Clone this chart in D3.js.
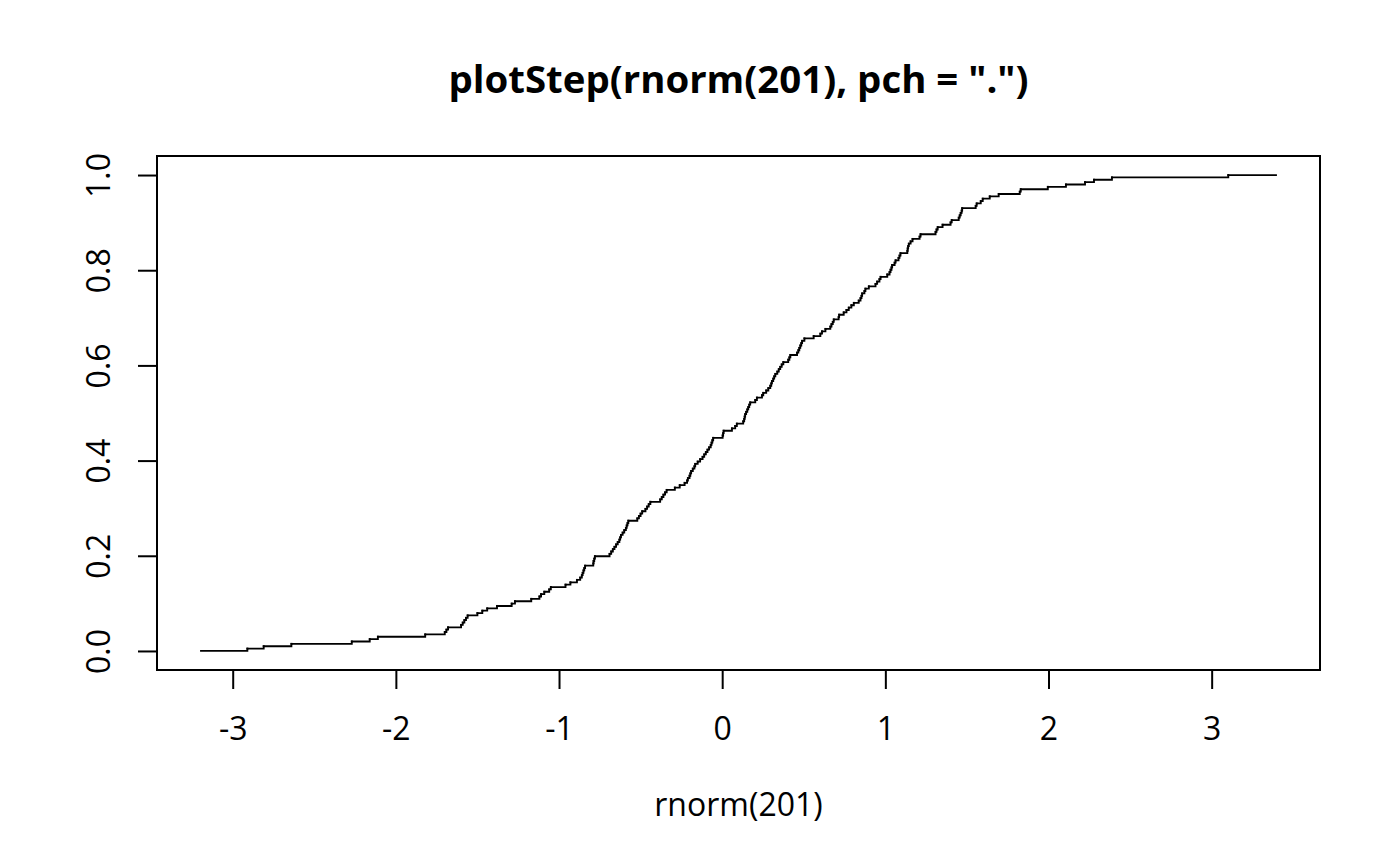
<!DOCTYPE html>
<html>
<head>
<meta charset="utf-8">
<script src="https://cdn.jsdelivr.net/npm/d3@7"></script>
<style>
    body { margin: 0; background: #fff; }
    svg text { font-family: "Open Sans", "Noto Sans", sans-serif; fill: #000; }
    .axis path { display: none; }
    .axis line { stroke: #000; stroke-width: 2px; }
</style>
</head>
<body>
<svg id="plot" width="1400" height="866"></svg>
<script>

var sampleValues = [
    -2.91, -2.81, -2.64, -2.27, -2.16, -2.11, -1.82, -1.70, -1.69, -1.68,
    -1.60, -1.59, -1.58, -1.57, -1.56, -1.50, -1.47, -1.44, -1.38, -1.29,
    -1.27, -1.17, -1.12, -1.11, -1.09, -1.06, -1.05, -0.96, -0.93, -0.89,
    -0.87, -0.86, -0.855, -0.85, -0.845, -0.84, -0.79, -0.788, -0.784, -0.78,
    -0.69, -0.68, -0.67, -0.66, -0.65, -0.64, -0.63, -0.625, -0.62, -0.61,
    -0.60, -0.59, -0.585, -0.58, -0.575, -0.52, -0.51, -0.50, -0.49, -0.47,
    -0.46, -0.45, -0.44, -0.38, -0.37, -0.36, -0.35, -0.34, -0.29, -0.26,
    -0.23, -0.215, -0.21, -0.20, -0.195, -0.19, -0.18, -0.17, -0.165, -0.15,
    -0.135, -0.12, -0.11, -0.10, -0.09, -0.08, -0.07, -0.065, -0.06, -0.055,
    0.003, 0.006, 0.009, 0.060, 0.080, 0.090, 0.129, 0.135, 0.138, 0.141,
    0.147, 0.154, 0.160, 0.166, 0.172, 0.203, 0.213, 0.244, 0.252, 0.270,
    0.283, 0.295, 0.301, 0.305, 0.313, 0.319, 0.326, 0.338, 0.347, 0.356,
    0.365, 0.375, 0.405, 0.412, 0.418, 0.459, 0.467, 0.473, 0.479, 0.485,
    0.490, 0.504, 0.561, 0.602, 0.612, 0.633, 0.663, 0.670, 0.678, 0.684,
    0.714, 0.717, 0.745, 0.762, 0.776, 0.792, 0.807, 0.837, 0.848, 0.854,
    0.858, 0.872, 0.878, 0.899, 0.940, 0.950, 0.964, 0.971, 1.012, 1.026,
    1.032, 1.038, 1.042, 1.057, 1.063, 1.081, 1.087, 1.093, 1.135, 1.137,
    1.140, 1.144, 1.155, 1.167, 1.210, 1.216, 1.308, 1.314, 1.321, 1.351,
    1.400, 1.407, 1.450, 1.456, 1.462, 1.468, 1.471, 1.554, 1.560, 1.585,
    1.597, 1.640, 1.695, 1.824, 1.830, 1.996, 2.107, 2.224, 2.279, 2.389,
    3.102
];

// where the horizontal end pieces of the step line stop
var stepStart = -3.20;
var stepEnd = 3.40;

var xTicks = [-3, -2, -1, 0, 1, 2, 3];
var xTickLabels = ["-3", "-2", "-1", "0", "1", "2", "3"];
var yTicks = [0, 0.2, 0.4, 0.6, 0.8, 1.0];
var yTickLabels = ["0.0", "0.2", "0.4", "0.6", "0.8", "1.0"];

var titleText = 'plotStep(rnorm(201), pch = ".")';
var xLabelText = "rnorm(201)";

d3.select(window).on('load', init);

function init() {
    var svg = d3.select('#plot');

    var box = {left: 157, right: 1320, top: 156, bottom: 670};

    // R style: limits padded by 4% on each side
    var xPad = 0.04 * (stepEnd - stepStart);
    var xScale = d3.scaleLinear()
        .domain([stepStart - xPad, stepEnd + xPad])
        .range([box.left, box.right]);

    var yScale = d3.scaleLinear()
        .domain([-0.04, 1.04])
        .range([box.bottom, box.top]);

    var n = sampleValues.length;

    // points of the ecdf, with the two end pieces
    var stepPts = [[stepStart, 0]];
    sampleValues.forEach(function(v, i) {
        stepPts.push([v, (i + 1) / n]);
    });
    stepPts.push([stepEnd, 1]);

    var line = d3.line()
        .x(function(d){ return xScale(d[0]); })
        .y(function(d){ return yScale(d[1]); })
        .curve(d3.curveStepAfter);

    svg.append('path')
        .datum(stepPts)
        .attr('d', line)
        .attr('fill', 'none')
        .attr('stroke', '#000')
        .attr('stroke-width', 1.8);

    // pch = "." markers
    svg.append('g')
        .selectAll('rect')
        .data(sampleValues)
        .enter()
        .append('rect')
        .attr('x', function(d){ return xScale(d) - 1; })
        .attr('y', function(d, i){ return yScale((i + 1) / n) - 1; })
        .attr('width', 2)
        .attr('height', 2)
        .attr('fill', '#000');

    var xAxis = d3.axisBottom(xScale)
        .tickValues(xTicks)
        .tickSize(19)
        .tickPadding(28)
        .tickFormat(function(d, i){ return xTickLabels[i]; });

    var yAxis = d3.axisLeft(yScale)
        .tickValues(yTicks)
        .tickSize(19)
        .tickFormat(function(d, i){ return yTickLabels[i]; });

    svg.append('g')
        .attr('class', 'axis x')
        .attr('transform', 'translate(0,' + box.bottom + ')')
        .call(xAxis);

    var gy = svg.append('g')
        .attr('class', 'axis y')
        .attr('transform', 'translate(' + box.left + ',0)')
        .call(yAxis);

    gy.selectAll('text')
        .attr('x', null)
        .attr('dy', null)
        .attr('text-anchor', 'middle')
        .attr('transform', 'translate(-47,0) rotate(-90)');

    svg.selectAll('.axis')
        .attr('font-family', null)
        .attr('font-size', 32);

    // plot frame
    svg.append('rect')
        .attr('x', box.left)
        .attr('y', box.top)
        .attr('width', box.right - box.left)
        .attr('height', box.bottom - box.top)
        .attr('fill', 'none')
        .attr('stroke', '#000')
        .attr('stroke-width', 2);

    svg.append('text')
        .attr('x', (box.left + box.right) / 2)
        .attr('y', 93)
        .attr('text-anchor', 'middle')
        .attr('font-size', 38.4)
        .attr('font-weight', 'bold')
        .text(titleText);

    svg.append('text')
        .attr('x', (box.left + box.right) / 2)
        .attr('y', 816)
        .attr('text-anchor', 'middle')
        .attr('font-size', 32)
        .text(xLabelText);
}
</script>
</body>
</html>
